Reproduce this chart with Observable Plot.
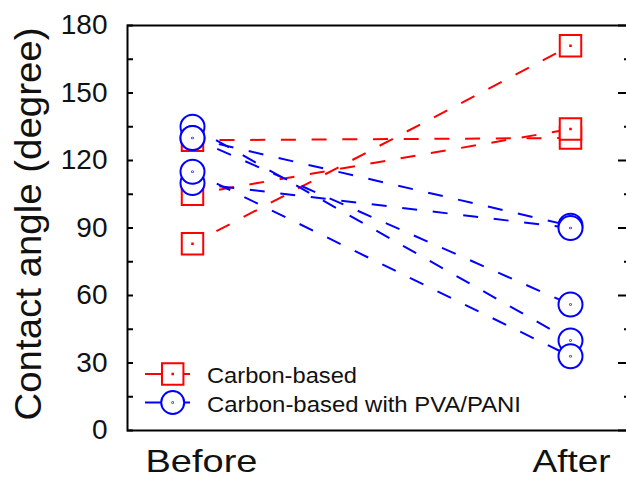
<!DOCTYPE html>
<html>
<head>
<meta charset="utf-8">
<script src="https://cdn.jsdelivr.net/npm/d3@7"></script>
<script src="https://cdn.jsdelivr.net/npm/@observablehq/plot@0.6"></script>
<style>
  html, body { margin: 0; padding: 0; background: white; overflow: hidden; }
</style>
</head>
<body>
<div id="chart"></div>
<script>
// ---- data ----
const xCategories = ["Before", "After"];
const redBefore = [129, 105, 83];
const redAfter = [130, 134, 171];
const blueBefore = [135, 130, 130, 110, 115];
const blueAfter = [40, 91, 56, 90, 33];
const yTicks = [0, 30, 60, 90, 120, 150, 180];
const yMinorTicks = [15, 45, 75, 105, 135, 165];
const seriesNames = ["Carbon-based", "Carbon-based with PVA/PANI"];
const yLabel = "Contact angle (degree)";

// ---- styling ----
const RED = "#ff0000", BLUE = "#0000ff";
const W = 626, H = 481, mL = 127, mR = 0, mT = 25, mB = 51;
const frameW = W - mL - mR;

const squareDot = { draw(ctx, size) { const s = Math.sqrt(size), h = s / 2; ctx.rect(-h, -h, s, s); ctx.rect(-0.3, -0.3, 0.6, 0.6); } };
const circleDot = { draw(ctx, size) { const r = Math.sqrt(size / Math.PI); ctx.moveTo(r, 0); ctx.arc(0, 0, r, 0, 2 * Math.PI); ctx.moveTo(0.35, 0); ctx.arc(0, 0, 0.35, 0, 2 * Math.PI); } };

const toLinks = (b, a) => b.map((v, i) => ({x1: xCategories[0], x2: xCategories[1], y1: v, y2: a[i]}));
const toPoints = (b, a) => [...b.map(v => ({x: xCategories[0], y: v})), ...a.map(v => ({x: xCategories[1], y: v}))];

const redLinks = toLinks(redBefore, redAfter);
const blueLinks = toLinks(blueBefore, blueAfter);
const redPts = toPoints(redBefore, redAfter);
const bluePts = toPoints(blueBefore, blueAfter);

const dash = {strokeWidth: 2, strokeDasharray: "15,15.7", strokeDashoffset: 3.7};

const chart = Plot.plot({
  width: W, height: H,
  marginLeft: mL, marginRight: mR, marginTop: mT, marginBottom: mB,
  style: {fontFamily: "'Liberation Sans', Arial, sans-serif", color: "#111", background: "white", overflow: "visible"},
  x: {type: "point", domain: xCategories, range: [192, 570], padding: 0, axis: null},
  y: {domain: [0, 180], axis: null},
  marks: [
    Plot.link(redLinks, {x1: "x1", x2: "x2", y1: "y1", y2: "y2", stroke: RED, ...dash}),
    Plot.link(blueLinks, {x1: "x1", x2: "x2", y1: "y1", y2: "y2", stroke: BLUE, ...dash}),
    Plot.dot(redPts, {x: "x", y: "y", symbol: squareDot, r: 12.1, stroke: RED, strokeWidth: 2, fill: "white"}),
    Plot.dot(bluePts, {x: "x", y: "y", symbol: circleDot, r: 12, stroke: BLUE, strokeWidth: 2, fill: "white"}),
    Plot.frame({stroke: "#000", strokeWidth: 2, insetRight: -3}),
    Plot.tickY(yTicks, {y: d => d, insetRight: frameW - 6, stroke: "#000", strokeWidth: 2}),
    Plot.tickY(yMinorTicks, {y: d => d, insetRight: frameW - 6, stroke: "#000", strokeWidth: 2}),
    Plot.tickY(yTicks, {y: d => d, insetLeft: frameW - 8, stroke: "#000", strokeWidth: 2}),
    Plot.tickY(yMinorTicks, {y: d => d, insetLeft: frameW - 2, stroke: "#000", strokeWidth: 2}),
    Plot.axisY(yTicks, {ticks: yTicks, tickSize: 0, tickPadding: 20, fontSize: 28, label: null}),
    Plot.text(xCategories, {x: d => d, text: d => d, frameAnchor: "bottom", lineAnchor: "bottom", textAnchor: "middle", dy: 41, fontSize: 32, fill: "#111"}),
    Plot.text([yLabel], {text: d => d, frameAnchor: "left", textAnchor: "middle", rotate: -90, dx: -98, dy: -4, fontSize: 37, fill: "#111"})
  ]
});

const svg = d3.select(chart);
// widen texts to the reference's proportions
svg.selectAll("text").each(function () {
  const t = d3.select(this), s = this.textContent;
  if (s === "Before") t.attr("x", 9).attr("textLength", 112).attr("lengthAdjust", "spacingAndGlyphs");
  if (s === "After") t.attr("x", 1).attr("textLength", 78).attr("lengthAdjust", "spacingAndGlyphs");
  if (s === yLabel) t.attr("textLength", 393).attr("lengthAdjust", "spacingAndGlyphs");
});

// legend
const lg = svg.append("g").attr("font-family", "'Liberation Sans', Arial, sans-serif").attr("font-size", 22).attr("text-anchor", "start");
const rows = [
  {name: seriesNames[0], color: RED, sym: squareDot, size: Math.PI * 12.1 * 12.1, cy: 374, base: 382.7, len: 150},
  {name: seriesNames[1], color: BLUE, sym: circleDot, size: Math.PI * 11.5 * 11.5, cy: 402.5, base: 412, len: 314}
];
rows.forEach(r => {
  lg.append("line").attr("x1", 145).attr("x2", 190).attr("y1", r.cy).attr("y2", r.cy)
    .attr("stroke", r.color).attr("stroke-width", 2);
  lg.append("path").attr("d", d3.symbol(r.sym, r.size)()).attr("transform", `translate(172.7,${r.cy})`)
    .attr("fill", "white").attr("stroke", r.color).attr("stroke-width", 2);
  lg.append("text").attr("x", 207).attr("y", r.base).attr("fill", "#111").attr("text-anchor", "start").text(r.name)
    .attr("textLength", r.len).attr("lengthAdjust", "spacingAndGlyphs");
});

document.getElementById("chart").appendChild(chart);
</script>
</body>
</html>
